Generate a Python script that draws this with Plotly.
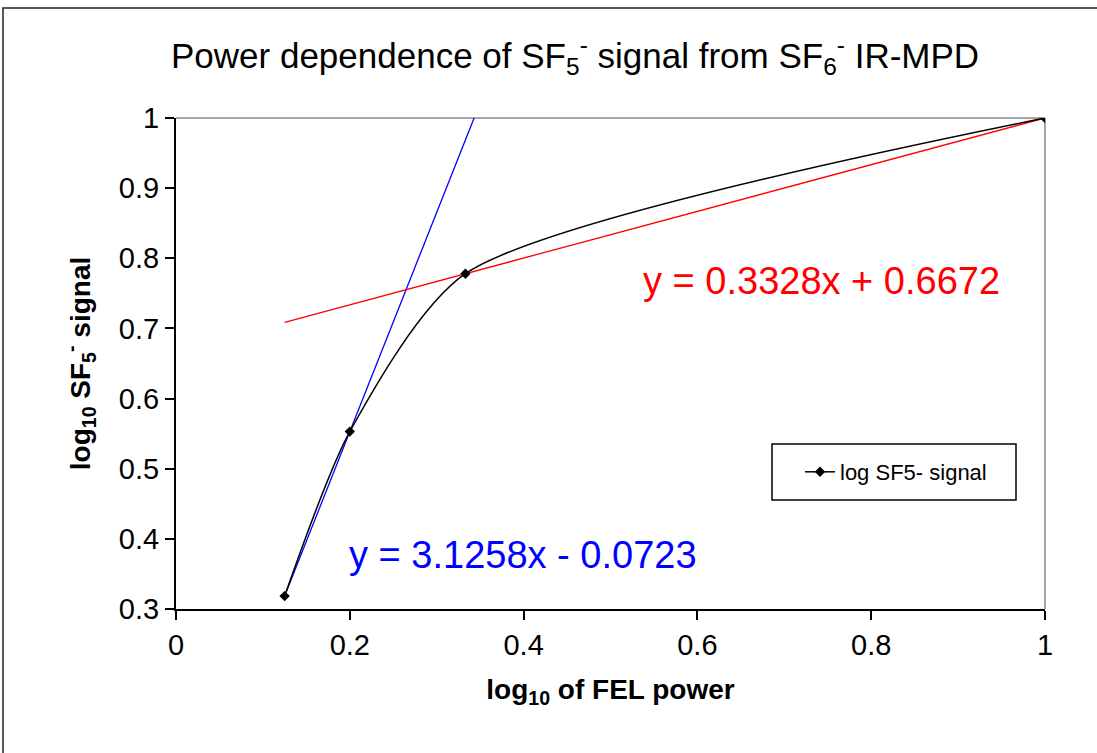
import plotly.graph_objects as go

# ---- data ----
x_power = [0.125, 0.2, 0.333, 1.0]          # log10 of FEL power
y_signal = [0.3184, 0.5529, 0.778, 1.0]      # log10 SF5- signal
series_name = "log SF5- signal"

fit_low_slope, fit_low_icpt = 3.1258, -0.0723
fit_high_slope, fit_high_icpt = 0.3328, 0.6672
fit_x = [x_power[0], x_power[-1]]

x_tickvals = [0, 0.2, 0.4, 0.6, 0.8, 1.0]
x_ticktext = ["0", "0.2", "0.4", "0.6", "0.8", "1"]
y_tickvals = [0.3, 0.4, 0.5, 0.6, 0.7, 0.8, 0.9, 1.0]
y_ticktext = ["0.3", "0.4", "0.5", "0.6", "0.7", "0.8", "0.9", "1"]

FONT = "Liberation Sans, Arial, sans-serif"

fig = go.Figure()

fig.add_trace(go.Scatter(
    x=fit_x, y=[fit_low_slope * v + fit_low_icpt for v in fit_x],
    mode="lines", line=dict(color="#0000FF", width=1.3),
    showlegend=False, hoverinfo="skip"))
fig.add_trace(go.Scatter(
    x=fit_x, y=[fit_high_slope * v + fit_high_icpt for v in fit_x],
    mode="lines", line=dict(color="#FF0000", width=1.3),
    showlegend=False, hoverinfo="skip"))
fig.add_trace(go.Scatter(
    x=x_power, y=y_signal, name=series_name,
    mode="lines+markers",
    line=dict(color="black", width=1.5, shape="spline", smoothing=0.7),
    marker=dict(symbol="diamond", size=8, color="black")))

W, H = 1097, 753
L, R, T, B = 176, 52, 118, 144
pw, ph = W - L - R, H - T - B

def px(xp):
    return (xp - L) / pw

def py(yp):
    return (H - B - yp) / ph

shapes = [
    # plot-area top and right border (gray)
    dict(type="line", xref="paper", yref="paper", x0=0, x1=1, y0=1, y1=1,
         line=dict(color="#888888", width=1.5), layer="below"),
    dict(type="line", xref="paper", yref="paper", x0=1, x1=1, y0=0, y1=1,
         line=dict(color="#888888", width=1.5), layer="below"),
    # outer chart border
    dict(type="rect", xref="paper", yref="paper",
         x0=px(3), x1=px(1110), y0=py(765), y1=py(8),
         line=dict(color="#222222", width=1.5), fillcolor="rgba(0,0,0,0)"),
    # legend box
    dict(type="rect", xref="paper", yref="paper",
         x0=px(772), x1=px(1016), y0=py(500), y1=py(444),
         line=dict(color="black", width=1.5), fillcolor="rgba(0,0,0,0)"),
]

annotations = [
    dict(text="Power dependence of SF<sub>5</sub><sup>-</sup> signal from SF<sub>6</sub><sup>-</sup> IR-MPD",
         xref="paper", yref="paper", x=px(575), y=py(55), xanchor="center", yanchor="middle",
         showarrow=False, font=dict(family=FONT, size=35, color="black")),
    dict(text="y = 0.3328x + 0.6672", xref="x", yref="y", x=px(641), y=0.3 + (H - B - 281) / ph * 0.7,
         xanchor="left", yanchor="middle", showarrow=False,
         font=dict(family=FONT, size=38, color="#FF0000")),
    dict(text="y = 3.1258x - 0.0723", xref="x", yref="y", x=px(347), y=0.3 + (H - B - 555) / ph * 0.7,
         xanchor="left", yanchor="middle", showarrow=False,
         font=dict(family=FONT, size=38, color="#0000FF")),
]

fig.update_layout(
    width=W, height=H,
    margin=dict(l=L, r=R, t=T, b=B),
    paper_bgcolor="white", plot_bgcolor="white",
    font=dict(family=FONT, color="black"),
    shapes=shapes, annotations=annotations,
    showlegend=True,
    legend=dict(x=px(800), y=py(451), xanchor="left", yanchor="top",
                bgcolor="rgba(0,0,0,0)", borderwidth=0,
                font=dict(family=FONT, size=22, color="black")),
    xaxis=dict(range=[0, 1], tickvals=x_tickvals, ticktext=x_ticktext,
               showgrid=False, zeroline=False, showline=True, linecolor="black", linewidth=2,
               ticks="outside", ticklen=9, tickwidth=2, tickcolor="black",
               tickfont=dict(family=FONT, size=29),
               title=dict(text="<b>log<sub>10</sub> of FEL power</b>",
                          font=dict(family=FONT, size=28), standoff=20)),
    yaxis=dict(range=[0.3, 1], tickvals=y_tickvals, ticktext=y_ticktext,
               showgrid=False, zeroline=False, showline=True, linecolor="black", linewidth=2,
               ticks="outside", ticklen=9, tickwidth=2, tickcolor="black",
               tickfont=dict(family=FONT, size=29),
               title=dict(text="<b>log<sub>10</sub> SF<sub>5</sub><sup>-</sup> signal</b>",
                          font=dict(family=FONT, size=28), standoff=20)),
)

fig.write_html("out.html")
